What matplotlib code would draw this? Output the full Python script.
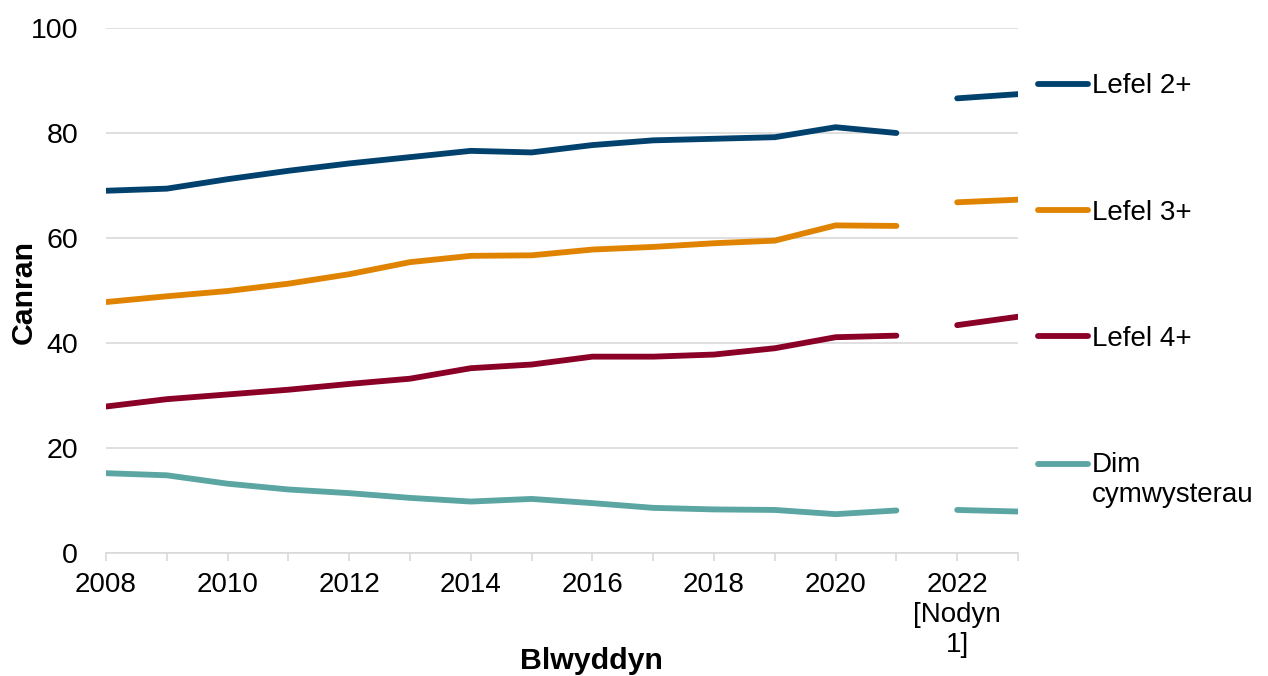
import matplotlib
matplotlib.use("Agg")
import matplotlib.pyplot as plt
from matplotlib.legend_handler import HandlerLine2D
import numpy as np

plt.rcParams['font.family'] = ['Liberation Sans', 'DejaVu Sans']

years = [2008, 2009, 2010, 2011, 2012, 2013, 2014, 2015, 2016, 2017, 2018, 2019, 2020, 2021, 2022, 2023]
lefel2 = [69.0, 69.4, 71.2, 72.8, 74.2, 75.4, 76.6, 76.3, 77.7, 78.6, 78.9, 79.2, 81.1, 80.0, 86.6, 87.4]
lefel3 = [47.8, 48.9, 49.9, 51.3, 53.1, 55.4, 56.6, 56.7, 57.8, 58.3, 59.0, 59.5, 62.4, 62.3, 66.8, 67.3]
lefel4 = [27.9, 29.3, 30.2, 31.1, 32.2, 33.2, 35.2, 35.9, 37.4, 37.4, 37.8, 39.0, 41.1, 41.4, 43.4, 45.0]
dim = [15.2, 14.8, 13.2, 12.1, 11.4, 10.5, 9.8, 10.3, 9.5, 8.6, 8.3, 8.2, 7.4, 8.1, 8.2, 7.9]

series_names = ['Lefel 2+', 'Lefel 3+', 'Lefel 4+', 'Dim\ncymwysterau']
series_values = [lefel2, lefel3, lefel4, dim]
colors = ['#00416E', '#E08300', '#8A0026', '#5BA5A3']

break_year = 2022  # methodology break [Nodyn 1]
xtick_pos = [2008, 2010, 2012, 2014, 2016, 2018, 2020, 2022]
xtick_labels = ['2008', '2010', '2012', '2014', '2016', '2018', '2020', '2022\n[Nodyn\n1]']
ytick_pos = [0, 20, 40, 60, 80, 100]

fs = 20
fs_y = 20.5
fs_title = 21.8
lw = 4.2

fig = plt.figure(figsize=(12.68, 6.76), dpi=100)
ax = fig.add_axes([106/1268, 1-553/676, (1018-106)/1268, (553-28)/676])

yrs = np.array(years)
handles = []
for name, vals, c in zip(series_names, series_values, colors):
    v = np.array(vals)
    m1 = yrs < break_year
    m2 = yrs >= break_year
    h, = ax.plot(yrs[m1], v[m1], color=c, lw=lw, solid_capstyle='round',
                 solid_joinstyle='round', label=name, zorder=3)
    ax.plot(yrs[m2], v[m2], color=c, lw=lw, solid_capstyle='round',
            solid_joinstyle='round', zorder=3)
    handles.append(h)

ax.set_xlim(2008, 2023)
ax.set_ylim(0, 100)
ax.set_xticks(xtick_pos)
ax.set_xticklabels(xtick_labels, fontsize=fs, linespacing=1.2)
ax.set_xticks(years, minor=True)
ax.set_yticks(ytick_pos)
ax.set_yticklabels([str(t) for t in ytick_pos], fontsize=fs_y)

ax.grid(axis='y', color='#D9D9D9', lw=1.2, zorder=0)
ax.set_axisbelow(True)
for s in ['top', 'right', 'left']:
    ax.spines[s].set_visible(False)
ax.spines['bottom'].set_color('#D9D9D9')
ax.spines['bottom'].set_linewidth(1.2)
ax.tick_params(axis='x', which='both', color='#D9D9D9', length=6, width=1.2, pad=8)
ax.tick_params(axis='x', which='minor', labelbottom=False)
ax.tick_params(axis='y', length=0, pad=20)

ax.set_xlabel('Blwyddyn', fontsize=fs_title, fontweight='bold')
ax.xaxis.label.set_va('baseline')
ax.xaxis.set_label_coords((591-106)/912, (553-669)/525)
ax.set_ylabel('Canran', fontsize=fs_title, fontweight='bold')
ax.yaxis.label.set_va('center')
ax.yaxis.set_label_coords((24-106)/912, (553-292)/525)


class FirstLineHandler(HandlerLine2D):
    """Align the legend line with the first line of a multi-line label."""
    def create_artists(self, legend, orig_handle, xdescent, ydescent, width,
                       height, fontsize, trans):
        artists = super().create_artists(legend, orig_handle, xdescent, ydescent,
                                         width, height, fontsize, trans)
        for a in artists:
            a.set_ydata(np.asarray(a.get_ydata()) + 0.6 * fontsize)
        return artists


leg = ax.legend(handles=handles, labels=series_names, loc='upper left',
                bbox_to_anchor=(1.022, 0.9136), frameon=False, fontsize=fs,
                handlelength=1.8, handletextpad=0.15, labelspacing=3.61,
                borderaxespad=0, borderpad=0,
                handler_map={handles[3]: FirstLineHandler()})
for line in leg.get_lines():
    line.set_linewidth(lw)
    line.set_solid_capstyle('round')

fig.savefig('out.png', dpi=100)
